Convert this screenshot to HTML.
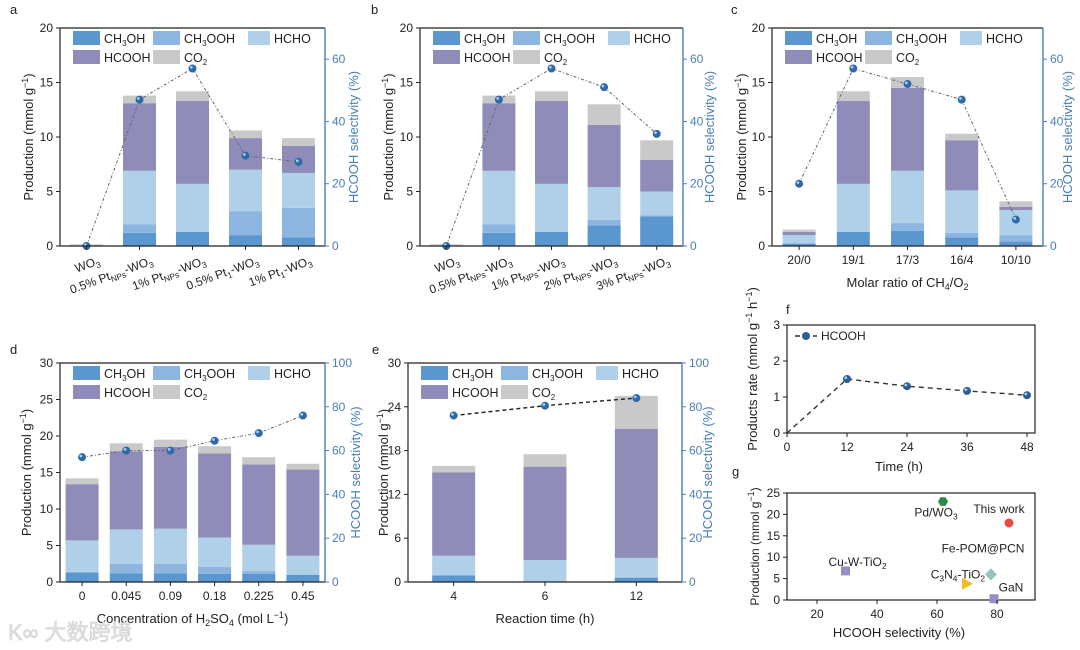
<!DOCTYPE html>
<html><head><meta charset="utf-8">
<style>
html,body{margin:0;padding:0;background:#fff;}
svg{display:block;font-family:"Liberation Sans","Noto Sans CJK SC",sans-serif;}
</style></head>
<body>
<svg id="fig" width="1080" height="650" viewBox="0 0 1080 650" xmlns="http://www.w3.org/2000/svg"></svg>
<script>
// ---------- DATA ----------
const seriesNames = ["CH3OH","CH3OOH","HCHO","HCOOH","CO2"];
// panel a
const aCats = ["WO3","0.5% PtNPs-WO3","1% PtNPs-WO3","0.5% Pt1-WO3","1% Pt1-WO3"];
const aCH3OH  = [0,1.2,1.3,1.0,0.8];
const aCH3OOH = [0,0.8,0,2.2,2.7];
const aHCHO   = [0,4.9,4.4,3.8,3.2];
const aHCOOH  = [0,6.2,7.6,2.9,2.5];
const aCO2    = [0.15,0.7,0.9,0.7,0.7];
const aSel    = [0,47,57,29,27];
// panel b
const bCats = ["WO3","0.5% PtNPs-WO3","1% PtNPs-WO3","2% PtNPs-WO3","3% PtNPs-WO3"];
const bCH3OH  = [0,1.2,1.3,1.9,2.7];
const bCH3OOH = [0,0.8,0,0.5,0.1];
const bHCHO   = [0,4.9,4.4,3.0,2.2];
const bHCOOH  = [0,6.2,7.6,5.7,2.9];
const bCO2    = [0.15,0.7,0.9,1.9,1.8];
const bSel    = [0,47,57,51,36];
// panel c
const cCats = ["20/0","19/1","17/3","16/4","10/10"];
const cCH3OH  = [0.2,1.3,1.4,0.8,0.4];
const cCH3OOH = [0.1,0,0.7,0.4,0.6];
const cHCHO   = [0.7,4.4,4.8,3.9,2.3];
const cHCOOH  = [0.3,7.6,7.6,4.6,0.3];
const cCO2    = [0.2,0.9,1.0,0.6,0.5];
const cSel    = [20,57,52,47,8.5];
// panel d
const dCats = ["0","0.045","0.09","0.18","0.225","0.45"];
const dCH3OH  = [1.3,1.2,1.2,1.1,1.1,1.0];
const dCH3OOH = [0,1.3,1.3,1.0,0.4,0];
const dHCHO   = [4.4,4.7,4.8,4.0,3.6,2.6];
const dHCOOH  = [7.7,10.7,11.2,11.5,11.0,11.8];
const dCO2    = [0.8,1.1,1.0,1.0,1.0,0.8];
const dSel    = [57,60,60,64.5,68,76];
// panel e
const eCats = ["4","6","12"];
const eCH3OH  = [0.9,0.1,0.6];
const eCH3OOH = [0,0,0];
const eHCHO   = [2.7,2.9,2.7];
const eHCOOH  = [11.4,12.8,17.7];
const eCO2    = [0.9,1.7,4.5];
const eSel    = [76,80.5,84];
// panel f
const fTimes = [0,12,24,36,48];
const fRates = [0,1.5,1.3,1.17,1.05];
// panel g
const gLabels = ["Pd/WO3","This work","Fe-POM@PCN","C3N4-TiO2","Cu-W-TiO2","GaN"];
const gSel    = [62,84,78,70,29.5,79];
const gProd   = [23,18,6,3.8,6.8,0.3];

const colors = ["#5b97cf","#8cb5df","#b0d0ea","#8f8cba","#c9c9c9"];
const BLUE = "#4a7fb8";
const svg = document.getElementById('fig');
const NS = "http://www.w3.org/2000/svg";

function mk(tag, attrs, parent){
  const e = document.createElementNS(NS, tag);
  for (const k in attrs) e.setAttribute(k, attrs[k]);
  (parent||svg).appendChild(e);
  return e;
}
function chemText(t, x, y, attrs, parent){
  const el = mk('text', Object.assign({x:x,y:y}, attrs), parent);
  const re = /(PtNPs|Pt1|[A-Za-z\)][0-9]+|⁻¹|.)/g;
  let m; let buf = "";
  const flush=()=>{ if(buf){ const s=mk('tspan',{},el); s.textContent=buf; buf=""; } };
  const sub=(s)=>{ flush(); const sp=mk('tspan',{'font-size':'0.7em','dy':'3'},el); sp.textContent=s; const r=mk('tspan',{'dy':'-3'},el); r.textContent="\u200b"; };
  while((m=re.exec(t))){
    const tok=m[0];
    if(tok==="PtNPs"){ buf+="Pt"; sub("NPs"); }
    else if(tok==="Pt1"){ buf+="Pt"; sub("1"); }
    else if(/^[A-Za-z\)][0-9]+$/.test(tok) && !/^[0-9]/.test(tok)){ buf+=tok[0]; sub(tok.slice(1)); }
    else buf+=tok;
  }
  flush();
  return el;
}

function panelLabel(t,x,y){
  const e = mk('text',{x:x,y:y,'font-size':13,fill:'#222'}); e.textContent=t;
  
  
}

function stackedPanel(cfg){
  const {id,L,R,T,B,ymax,yticks,rmax,rticks,cats,series,sel,barW,rot,xTitle,lTitleX,rTitleX,dark} = cfg;
  const g = mk('g',{});
  
  
  const y = v => B - v/ymax*(B-T);
  const yr = v => B - v/rmax*(B-T);
  const n = cats.length;
  const step = (R-L)/n;
  const x = i => L + step*(i+0.5);
  for(let i=0;i<n;i++){
    let acc=0;
    for(let s=0;s<series.length;s++){
      const v=series[s][i]; if(v<=0) continue;
      const r = mk('rect',{x:x(i)-barW/2,y:y(acc+v),width:barW,height:y(acc)-y(acc+v),fill:colors[s]},g);
      
      
      acc+=v;
    }
  }
  let d="";
  for(let i=0;i<n;i++) d += (i?"L":"M")+x(i)+" "+yr(sel[i]);
  const ln = mk('path',{d:d,fill:'none',stroke:dark?'#222':'#666','stroke-width':dark?1.4:1,'stroke-dasharray':dark?'4 3':'3 2 1 2'},g);
  
  
  for(let i=0;i<n;i++){
    const c = mk('circle',{cx:x(i),cy:yr(sel[i]),r:4,fill:'#2d6aa8'},g);
    
    
    mk('circle',{cx:x(i)-1.2,cy:yr(sel[i])-1.2,r:1.4,fill:'#a9cbee'},g);
  }
  mk('path',{d:`M${L} ${B}V${T}H${R}`,fill:'none',stroke:'#222','stroke-width':1.2},g);
  mk('line',{x1:L,y1:B,x2:R,y2:B,stroke:'#222','stroke-width':1.2},g);
  mk('line',{x1:R,y1:T,x2:R,y2:B,stroke:BLUE,'stroke-width':1.4},g);
  yticks.forEach(v=>{
    mk('line',{x1:L-4,y1:y(v),x2:L,y2:y(v),stroke:'#222'},g);
    const t=mk('text',{x:L-7,y:y(v)+4,'font-size':12,'text-anchor':'end',fill:'#222'},g); t.textContent=v;
    
    
  });
  rticks.forEach(v=>{
    mk('line',{x1:R,y1:yr(v),x2:R+4,y2:yr(v),stroke:BLUE},g);
    const t=mk('text',{x:R+7,y:yr(v)+4,'font-size':12,fill:BLUE},g); t.textContent=v;
    
    
  });
  for(let i=0;i<n;i++){
    mk('line',{x1:x(i),y1:B,x2:x(i),y2:B+4,stroke:'#222'},g);
    let t;
    if(rot){
      t = chemText(cats[i],0,0,{'font-size':12,'text-anchor':'end',fill:'#222',transform:`translate(${x(i)+14},${B+18}) rotate(-20)`},g);
    } else {
      t = chemText(cats[i],x(i),B+18,{'font-size':12,'text-anchor':'middle',fill:'#222'},g);
    }
    
    
  }
  const lt = mk('text',{'font-size':13,'text-anchor':'middle',fill:'#222',transform:`translate(${lTitleX},${(T+B)/2}) rotate(-90)`},g);
  lt.innerHTML = 'Production (mmol g<tspan font-size="9" dy="-5">−1</tspan><tspan dy="5">)</tspan>';
  
  
  const rt = mk('text',{'font-size':13,'text-anchor':'middle',fill:BLUE,transform:`translate(${rTitleX},${(T+B)/2}) rotate(-90)`},g);
  rt.textContent='HCOOH selectivity (%)';
  
  
  if(xTitle){
    const xt = mk('text',{x:(L+R)/2,y:B+41,'font-size':13,'text-anchor':'middle',fill:'#222'},g);
    xt.innerHTML = xTitle;
    
    
  }
  const lg = mk('g',{},g);
  
  
  const lx=L+13, ly=T+3;
  const pos=[[lx,ly],[lx+80,ly],[lx+175,ly],[lx,ly+19],[lx+80,ly+19]];
  const labels=['CH<tspan font-size="8" dy="3">3</tspan><tspan dy="-3">OH</tspan>','CH<tspan font-size="8" dy="3">3</tspan><tspan dy="-3">OOH</tspan>','HCHO','HCOOH','CO<tspan font-size="8" dy="3">2</tspan>'];
  pos.forEach((p,k)=>{
    const bw = k===2?22:27;
    const e = mk('rect',{x:p[0],y:p[1],width:bw,height:14,fill:colors[k]},lg);
    
    
    const t = mk('text',{x:p[0]+bw+4,y:p[1]+12,'font-size':12.5,fill:'#222'},lg);
    t.innerHTML=labels[k];
    
    
  });
}

stackedPanel({id:'a',L:60,R:325,T:28,B:246,ymax:20,yticks:[0,5,10,15,20],rmax:70,rticks:[0,20,40,60],cats:aCats,series:[aCH3OH,aCH3OOH,aHCHO,aHCOOH,aCO2],sel:aSel,barW:33,rot:true,lTitleX:33,rTitleX:358});
stackedPanel({id:'b',L:420,R:683,T:28,B:246,ymax:20,yticks:[0,5,10,15,20],rmax:70,rticks:[0,20,40,60],cats:bCats,series:[bCH3OH,bCH3OOH,bHCHO,bHCOOH,bCO2],sel:bSel,barW:33,rot:true,lTitleX:393,rTitleX:714});
stackedPanel({id:'c',L:772,R:1043,T:28,B:246,ymax:20,yticks:[0,5,10,15,20],rmax:70,rticks:[0,20,40,60],cats:cCats,series:[cCH3OH,cCH3OOH,cHCHO,cHCOOH,cCO2],sel:cSel,barW:33,rot:false,xTitle:'Molar ratio of CH<tspan font-size="9" dy="3">4</tspan><tspan dy="-3">/O</tspan><tspan font-size="9" dy="3">2</tspan>',lTitleX:746,rTitleX:1072});
stackedPanel({id:'d',L:60,R:325,T:363,B:582,ymax:30,yticks:[0,5,10,15,20,25,30],rmax:100,rticks:[0,20,40,60,80,100],cats:dCats,series:[dCH3OH,dCH3OOH,dHCHO,dHCOOH,dCO2],sel:dSel,barW:33,rot:false,xTitle:'Concentration of H<tspan font-size="9" dy="3">2</tspan><tspan dy="-3">SO</tspan><tspan font-size="9" dy="3">4</tspan><tspan dy="-3"> (mol L</tspan><tspan font-size="9" dy="-5">−1</tspan><tspan dy="5">)</tspan>',lTitleX:31,rTitleX:360});
stackedPanel({id:'e',L:408,R:682,T:363,B:582,ymax:30,yticks:[0,6,12,18,24,30],rmax:100,rticks:[0,20,40,60,80,100],cats:eCats,series:[eCH3OH,eCH3OOH,eHCHO,eHCOOH,eCO2],sel:eSel,barW:43,rot:false,xTitle:'Reaction time (h)',lTitleX:388,rTitleX:712,dark:true});

panelLabel('a',10,14); panelLabel('b',371,14); panelLabel('c',731,14);
panelLabel('d',10,354); panelLabel('e',372,354); panelLabel('f',786,314); panelLabel('g',732,476);

// ---------- panel f ----------
(function(){
  const L=787,R=1035,T=325,B=433;
  const g=mk('g',{});
  
  
  const x=v=>L+ v/48*(1027-L);
  const y=v=>B- v/3*(B-T);
  let d=""; fTimes.forEach((t,i)=>{d+=(i?"L":"M")+x(t)+" "+y(fRates[i]);});
  const p=mk('path',{d:d,fill:'none',stroke:'#333','stroke-width':1.4,'stroke-dasharray':'5 4'},g);
  
  
  fTimes.forEach((t,i)=>{ if(i===0) return;
    const c=mk('circle',{cx:x(t),cy:y(fRates[i]),r:4,fill:'#2d5f93'},g);
    
    
    mk('circle',{cx:x(t)-1.2,cy:y(fRates[i])-1.2,r:1.4,fill:'#a9cbee'},g);
  });
  mk('rect',{x:L,y:T,width:R-L,height:B-T,fill:'none',stroke:'#222','stroke-width':1.2},g);
  [0,1,2,3].forEach(v=>{ mk('line',{x1:L-4,y1:y(v),x2:L,y2:y(v),stroke:'#222'},g);
    const t=mk('text',{x:L-7,y:y(v)+4,'font-size':12,'text-anchor':'end',fill:'#222'},g); t.textContent=v;
     });
  fTimes.forEach(v=>{ mk('line',{x1:x(v),y1:B,x2:x(v),y2:B+4,stroke:'#222'},g);
    const t=mk('text',{x:x(v),y:B+18,'font-size':12,'text-anchor':'middle',fill:'#222'},g); t.textContent=v;
     });
  const xt=mk('text',{x:(L+R)/2-12,y:B+38,'font-size':13,'text-anchor':'middle',fill:'#222'},g); xt.textContent='Time (h)';
   
  const yt=mk('text',{'font-size':13,'text-anchor':'middle',fill:'#222',transform:`translate(${L-30},${(T+B)/2-10}) rotate(-90)`},g);
  yt.innerHTML='Products rate (mmol g<tspan font-size="9" dy="-5">−1</tspan><tspan dy="5"> h</tspan><tspan font-size="9" dy="-5">−1</tspan><tspan dy="5">)</tspan>';
   
  const lg=mk('g',{},g);
   
  mk('line',{x1:L+8,y1:T+11,x2:L+30,y2:T+11,stroke:'#333','stroke-width':1.4,'stroke-dasharray':'5 4'},lg);
  mk('circle',{cx:L+19,cy:T+11,r:4,fill:'#2d5f93'},lg);
  const lt=mk('text',{x:L+34,y:T+15,'font-size':12,fill:'#222'},lg); lt.textContent='HCOOH';
})();

// ---------- panel g ----------
(function(){
  const L=787,R=1035,T=493,B=600;
  const g=mk('g',{});
  
  
  const x=v=>817+(v-20)*(997-817)/60;
  const y=v=>B- v/25*(B-T);
  mk('rect',{x:L,y:T,width:R-L,height:B-T,fill:'none',stroke:'#222','stroke-width':1.2},g);
  const shapes=['hex','circle','diamond','tri','square','square'];
  const fills=['#2e8a47','#e94a45','#8fc4bf','#f5b921','#9590c4','#9590c4'];
  const lblPos=[[-7,15,'middle'],[-10,-10,'middle'],[-8,-22,'middle'],[18,-5,'end'],[12,-5,'middle'],[17,-7,'middle']];
  gLabels.forEach((lab,i)=>{
    const cx=x(gSel[i]), cy=y(gProd[i]); let m;
    const s=shapes[i];
    if(s==='circle') m=mk('circle',{cx:cx,cy:cy,r:4.5,fill:fills[i]},g);
    else if(s==='square') m=mk('rect',{x:cx-4.5,y:cy-4.5,width:9,height:9,fill:fills[i]},g);
    else if(s==='diamond') m=mk('polygon',{points:`${cx},${cy-6} ${cx+6},${cy} ${cx},${cy+6} ${cx-6},${cy}`,fill:fills[i]},g);
    else if(s==='tri') m=mk('polygon',{points:`${cx-5},${cy-6} ${cx+6},${cy} ${cx-5},${cy+6}`,fill:fills[i]},g);
    else { let pts=""; for(let k=0;k<6;k++){const a=Math.PI/3*k; pts+=(cx+5*Math.cos(a))+","+(cy+5*Math.sin(a))+" ";} m=mk('polygon',{points:pts,fill:fills[i]},g); }
    
    
    const t=chemText(lab,cx+lblPos[i][0],cy+lblPos[i][1],{'font-size':12,'text-anchor':lblPos[i][2],fill:'#222'},g);
     
  });
  [0,5,10,15,20,25].forEach(v=>{ mk('line',{x1:L-4,y1:y(v),x2:L,y2:y(v),stroke:'#222'},g);
    const t=mk('text',{x:L-7,y:y(v)+4,'font-size':12,'text-anchor':'end',fill:'#222'},g); t.textContent=v;
     });
  [20,40,60,80].forEach(v=>{ mk('line',{x1:x(v),y1:B,x2:x(v),y2:B+4,stroke:'#222'},g);
    const t=mk('text',{x:x(v),y:B+18,'font-size':12,'text-anchor':'middle',fill:'#222'},g); t.textContent=v;
     });
  const xt=mk('text',{x:(L+R)/2-12,y:B+37,'font-size':13,'text-anchor':'middle',fill:'#222'},g); xt.textContent='HCOOH selectivity (%)';
   
  const yt=mk('text',{'font-size':12,'text-anchor':'middle',fill:'#222',transform:`translate(${L-28},${(T+B)/2}) rotate(-90)`},g);
  yt.innerHTML='Production (mmol g<tspan font-size="9" dy="-5">−1</tspan><tspan dy="5">)</tspan>';
   
})();

const wm=mk('text',{x:8,y:640,'font-size':22,fill:'#e4e4e4',stroke:'#cfcfcf','stroke-width':0.6});
wm.textContent='K∞ 大数跨境';


</script>
</body></html>
